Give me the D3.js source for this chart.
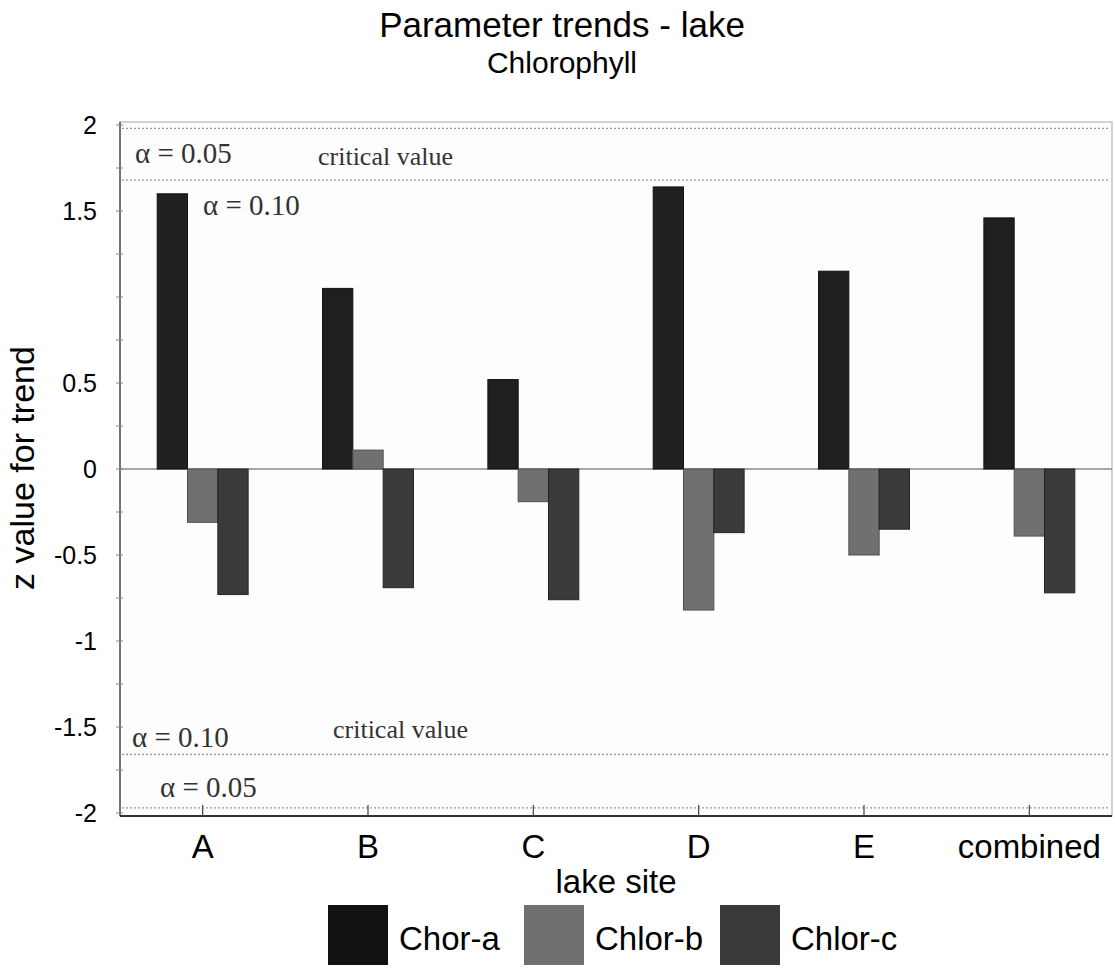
<!DOCTYPE html>
<html><head><meta charset="utf-8">
<script src="https://cdn.jsdelivr.net/npm/d3@7"></script>
<style>body{margin:0;background:#fff}svg{display:block}</style>
</head><body><svg id="c" width="1115" height="968"></svg>
<script>
const categories = ["A","B","C","D","E","combined"];
const seriesNames = ["Chor-a","Chlor-b","Chlor-c"];
const chorA  = [1.60, 1.05, 0.52, 1.64, 1.15, 1.46];
const chlorB = [-0.31, 0.11, -0.19, -0.82, -0.50, -0.39];
const chlorC = [-0.73, -0.69, -0.76, -0.37, -0.35, -0.72];
const yTickValues = [2, 1.5, 0.5, 0, -0.5, -1, -1.5, -2];
const criticalUpper = [1.98, 1.68];
const criticalLower = [-1.66, -1.97];

const svg = d3.select("#c");
const L = 120, R = 1112, T = 122, B = 816;
const y = d3.scaleLinear().domain([-2, 2]).range([813, 125]);
const x = d3.scaleBand().domain(categories).range([L, R]).paddingInner(0.45).paddingOuter(0.225);
const xs = d3.scaleBand().domain(seriesNames).range([0, x.bandwidth()]);
const colors = {"Chor-a":"#202020","Chlor-b":"#707070","Chlor-c":"#3a3a3a"};
const strokes = {"Chor-a":"#131313","Chlor-b":"#505050","Chlor-c":"#252525"};
const sans = "Liberation Sans, Arial";

// title
svg.append("text").attr("x",562).attr("y",37).attr("text-anchor","middle")
  .style("font-family",sans).style("font-size","35px").text("Parameter trends - lake");
svg.append("text").attr("x",562).attr("y",73).attr("text-anchor","middle")
  .style("font-family",sans).style("font-size","30px").text("Chlorophyll");

// frame
svg.append("rect").attr("x",L).attr("y",T).attr("width",R-L).attr("height",B-T)
  .attr("fill","#fdfdfd").attr("stroke","#b5b5b5").attr("stroke-width",1.2);

// critical lines
[...criticalUpper, ...criticalLower].forEach(v=>{
  svg.append("line").attr("x1",L+2).attr("x2",R-2).attr("y1",y(v)).attr("y2",y(v))
    .attr("stroke","#999").attr("stroke-width",1.3).attr("stroke-dasharray","2,2");
});

// zero line
svg.append("line").attr("x1",L).attr("x2",R).attr("y1",y(0)).attr("y2",y(0))
  .attr("stroke","#8a8a8a").attr("stroke-width",1.5);

// bars
const rows = categories.map((c,i)=>({cat:c, vals:[chorA[i],chlorB[i],chlorC[i]]}));
const g = svg.append("g");
rows.forEach(r=>{
  r.vals.forEach((v,j)=>{
    const s = seriesNames[j];
    g.append("rect")
      .attr("x", x(r.cat)+xs(s)).attr("width", xs.bandwidth())
      .attr("y", y(Math.max(0,v))).attr("height", Math.abs(y(v)-y(0)))
      .attr("fill", colors[s]).attr("stroke", strokes[s]).attr("stroke-width",1);
  });
});

// y axis
svg.append("line").attr("x1",L).attr("x2",L).attr("y1",T).attr("y2",B).attr("stroke","#555").attr("stroke-width",1.5);
d3.range(-2,2.001,0.25).forEach(v=>{
  svg.append("line").attr("x1",L-4).attr("x2",L+3).attr("y1",y(v)).attr("y2",y(v)).attr("stroke","#888");
});
svg.selectAll(".ytl").data(yTickValues).enter().append("text")
  .attr("x",97).attr("y",d=>y(d)).attr("dy","0.36em").attr("text-anchor","end")
  .style("font-family",sans).style("font-size","25px").text(d=>d);
svg.append("text").attr("transform","translate(34,468) rotate(-90)").attr("text-anchor","middle")
  .style("font-family",sans).style("font-size","34px").text("z value for trend");

// x axis
svg.append("line").attr("x1",L).attr("x2",R).attr("y1",B).attr("y2",B).attr("stroke","#333").attr("stroke-width",1.8);
categories.forEach(c=>{
  const cx = x(c)+x.bandwidth()/2;
  svg.append("line").attr("x1",cx).attr("x2",cx).attr("y1",B).attr("y2",B-11).attr("stroke","#444").attr("stroke-width",1.2);
  svg.append("text").attr("x",cx).attr("y",858).attr("text-anchor","middle")
    .style("font-family",sans).style("font-size","33px").text(c);
});
svg.append("text").attr("x",616).attr("y",893).attr("text-anchor","middle")
  .style("font-family",sans).style("font-size","33px").text("lake site");

// annotations
const serif = "Liberation Serif, Times New Roman";
const ann = [
  {t:"\u03b1 = 0.05", x:135, y:163},
  {t:"critical value", x:318, y:165},
  {t:"\u03b1 = 0.10", x:203, y:215},
  {t:"\u03b1 = 0.10", x:132, y:747},
  {t:"critical value", x:333, y:738},
  {t:"\u03b1 = 0.05", x:160, y:797}
];
ann.forEach(a=>{
  svg.append("text").attr("x",a.x).attr("y",a.y).style("font-family",serif)
    .style("font-size",a.t.startsWith("crit")?"26px":"29px").attr("fill","#333").text(a.t);
});

// legend
const legX = [328, 524, 720];
seriesNames.forEach((s,i)=>{
  svg.append("rect").attr("x",legX[i]).attr("y",905).attr("width",60).attr("height",60)
    .attr("fill", i===0?"#111":colors[s]);
  svg.append("text").attr("x",legX[i]+71).attr("y",950)
    .style("font-family",sans).style("font-size","33px").text(s);
});
</script></body></html>
